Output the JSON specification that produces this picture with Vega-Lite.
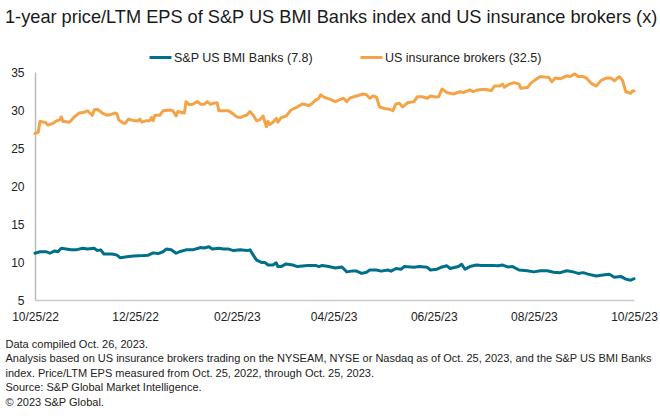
{
  "$schema": "https://vega.github.io/schema/vega-lite/v6.json",
  "autosize": {"type": "none"},
  "width": 599,
  "height": 228,
  "padding": {"left": 35, "top": 72, "right": 26, "bottom": 119},
  "background": "white",
  "config": {
    "font": "Liberation Sans",
    "view": {"stroke": null}
  },
  "title": {
    "text": "1-year price/LTM EPS of S&P US BMI Banks index and US insurance brokers (x)",
    "anchor": "start",
    "frame": "group",
    "dx": -30,
    "offset": 18,
    "baseline": "top",
    "fontSize": 18.2,
    "fontWeight": "normal",
    "color": "#1a1a1a",
    "font": "Liberation Sans"
  },
  "datasets": {
    "series": [
      {"d": "2022-10-25", "s": "S&P US BMI Banks (7.8)", "v": 11.15},
      {"d": "2022-10-28", "s": "S&P US BMI Banks (7.8)", "v": 11.35},
      {"d": "2022-11-01", "s": "S&P US BMI Banks (7.8)", "v": 11.35},
      {"d": "2022-11-03", "s": "S&P US BMI Banks (7.8)", "v": 11.15},
      {"d": "2022-11-06", "s": "S&P US BMI Banks (7.8)", "v": 11.45},
      {"d": "2022-11-08", "s": "S&P US BMI Banks (7.8)", "v": 11.35},
      {"d": "2022-11-10", "s": "S&P US BMI Banks (7.8)", "v": 11.8},
      {"d": "2022-11-13", "s": "S&P US BMI Banks (7.8)", "v": 11.7},
      {"d": "2022-11-16", "s": "S&P US BMI Banks (7.8)", "v": 11.6},
      {"d": "2022-11-19", "s": "S&P US BMI Banks (7.8)", "v": 11.6},
      {"d": "2022-11-23", "s": "S&P US BMI Banks (7.8)", "v": 11.8},
      {"d": "2022-11-26", "s": "S&P US BMI Banks (7.8)", "v": 11.7},
      {"d": "2022-11-30", "s": "S&P US BMI Banks (7.8)", "v": 11.8},
      {"d": "2022-12-02", "s": "S&P US BMI Banks (7.8)", "v": 11.5},
      {"d": "2022-12-04", "s": "S&P US BMI Banks (7.8)", "v": 11.6},
      {"d": "2022-12-06", "s": "S&P US BMI Banks (7.8)", "v": 11.05},
      {"d": "2022-12-11", "s": "S&P US BMI Banks (7.8)", "v": 11.05},
      {"d": "2022-12-14", "s": "S&P US BMI Banks (7.8)", "v": 10.9},
      {"d": "2022-12-16", "s": "S&P US BMI Banks (7.8)", "v": 10.55},
      {"d": "2022-12-20", "s": "S&P US BMI Banks (7.8)", "v": 10.7},
      {"d": "2022-12-24", "s": "S&P US BMI Banks (7.8)", "v": 10.8},
      {"d": "2022-12-30", "s": "S&P US BMI Banks (7.8)", "v": 10.85},
      {"d": "2023-01-02", "s": "S&P US BMI Banks (7.8)", "v": 10.9},
      {"d": "2023-01-05", "s": "S&P US BMI Banks (7.8)", "v": 11.2},
      {"d": "2023-01-08", "s": "S&P US BMI Banks (7.8)", "v": 11.1},
      {"d": "2023-01-11", "s": "S&P US BMI Banks (7.8)", "v": 11.35},
      {"d": "2023-01-13", "s": "S&P US BMI Banks (7.8)", "v": 11.7},
      {"d": "2023-01-16", "s": "S&P US BMI Banks (7.8)", "v": 11.6},
      {"d": "2023-01-19", "s": "S&P US BMI Banks (7.8)", "v": 11.15},
      {"d": "2023-01-21", "s": "S&P US BMI Banks (7.8)", "v": 11.35},
      {"d": "2023-01-25", "s": "S&P US BMI Banks (7.8)", "v": 11.6},
      {"d": "2023-01-29", "s": "S&P US BMI Banks (7.8)", "v": 11.6},
      {"d": "2023-02-03", "s": "S&P US BMI Banks (7.8)", "v": 11.9},
      {"d": "2023-02-05", "s": "S&P US BMI Banks (7.8)", "v": 11.85},
      {"d": "2023-02-08", "s": "S&P US BMI Banks (7.8)", "v": 12.0},
      {"d": "2023-02-10", "s": "S&P US BMI Banks (7.8)", "v": 11.7},
      {"d": "2023-02-14", "s": "S&P US BMI Banks (7.8)", "v": 11.8},
      {"d": "2023-02-17", "s": "S&P US BMI Banks (7.8)", "v": 11.7},
      {"d": "2023-02-20", "s": "S&P US BMI Banks (7.8)", "v": 11.7},
      {"d": "2023-02-23", "s": "S&P US BMI Banks (7.8)", "v": 11.5},
      {"d": "2023-02-27", "s": "S&P US BMI Banks (7.8)", "v": 11.6},
      {"d": "2023-03-03", "s": "S&P US BMI Banks (7.8)", "v": 11.5},
      {"d": "2023-03-05", "s": "S&P US BMI Banks (7.8)", "v": 11.6},
      {"d": "2023-03-07", "s": "S&P US BMI Banks (7.8)", "v": 10.9},
      {"d": "2023-03-09", "s": "S&P US BMI Banks (7.8)", "v": 10.25},
      {"d": "2023-03-12", "s": "S&P US BMI Banks (7.8)", "v": 9.95},
      {"d": "2023-03-14", "s": "S&P US BMI Banks (7.8)", "v": 9.95},
      {"d": "2023-03-16", "s": "S&P US BMI Banks (7.8)", "v": 9.6},
      {"d": "2023-03-19", "s": "S&P US BMI Banks (7.8)", "v": 9.6},
      {"d": "2023-03-21", "s": "S&P US BMI Banks (7.8)", "v": 9.9},
      {"d": "2023-03-22", "s": "S&P US BMI Banks (7.8)", "v": 9.4},
      {"d": "2023-03-24", "s": "S&P US BMI Banks (7.8)", "v": 9.4},
      {"d": "2023-03-27", "s": "S&P US BMI Banks (7.8)", "v": 9.75},
      {"d": "2023-03-31", "s": "S&P US BMI Banks (7.8)", "v": 9.6},
      {"d": "2023-04-03", "s": "S&P US BMI Banks (7.8)", "v": 9.4},
      {"d": "2023-04-09", "s": "S&P US BMI Banks (7.8)", "v": 9.55},
      {"d": "2023-04-14", "s": "S&P US BMI Banks (7.8)", "v": 9.55},
      {"d": "2023-04-16", "s": "S&P US BMI Banks (7.8)", "v": 9.4},
      {"d": "2023-04-18", "s": "S&P US BMI Banks (7.8)", "v": 9.55},
      {"d": "2023-04-22", "s": "S&P US BMI Banks (7.8)", "v": 9.4},
      {"d": "2023-04-26", "s": "S&P US BMI Banks (7.8)", "v": 9.2},
      {"d": "2023-04-30", "s": "S&P US BMI Banks (7.8)", "v": 9.35},
      {"d": "2023-05-03", "s": "S&P US BMI Banks (7.8)", "v": 8.7},
      {"d": "2023-05-06", "s": "S&P US BMI Banks (7.8)", "v": 8.8},
      {"d": "2023-05-09", "s": "S&P US BMI Banks (7.8)", "v": 8.8},
      {"d": "2023-05-12", "s": "S&P US BMI Banks (7.8)", "v": 8.5},
      {"d": "2023-05-15", "s": "S&P US BMI Banks (7.8)", "v": 8.65},
      {"d": "2023-05-17", "s": "S&P US BMI Banks (7.8)", "v": 8.95},
      {"d": "2023-05-21", "s": "S&P US BMI Banks (7.8)", "v": 8.95},
      {"d": "2023-05-24", "s": "S&P US BMI Banks (7.8)", "v": 8.8},
      {"d": "2023-05-28", "s": "S&P US BMI Banks (7.8)", "v": 8.95},
      {"d": "2023-05-30", "s": "S&P US BMI Banks (7.8)", "v": 8.8},
      {"d": "2023-06-02", "s": "S&P US BMI Banks (7.8)", "v": 9.15},
      {"d": "2023-06-05", "s": "S&P US BMI Banks (7.8)", "v": 9.05},
      {"d": "2023-06-07", "s": "S&P US BMI Banks (7.8)", "v": 9.4},
      {"d": "2023-06-13", "s": "S&P US BMI Banks (7.8)", "v": 9.3},
      {"d": "2023-06-16", "s": "S&P US BMI Banks (7.8)", "v": 9.4},
      {"d": "2023-06-21", "s": "S&P US BMI Banks (7.8)", "v": 9.3},
      {"d": "2023-06-23", "s": "S&P US BMI Banks (7.8)", "v": 8.95},
      {"d": "2023-06-27", "s": "S&P US BMI Banks (7.8)", "v": 9.05},
      {"d": "2023-06-30", "s": "S&P US BMI Banks (7.8)", "v": 9.35},
      {"d": "2023-07-03", "s": "S&P US BMI Banks (7.8)", "v": 9.5},
      {"d": "2023-07-05", "s": "S&P US BMI Banks (7.8)", "v": 9.15},
      {"d": "2023-07-10", "s": "S&P US BMI Banks (7.8)", "v": 9.4},
      {"d": "2023-07-12", "s": "S&P US BMI Banks (7.8)", "v": 9.7},
      {"d": "2023-07-14", "s": "S&P US BMI Banks (7.8)", "v": 9.05},
      {"d": "2023-07-17", "s": "S&P US BMI Banks (7.8)", "v": 9.4},
      {"d": "2023-07-21", "s": "S&P US BMI Banks (7.8)", "v": 9.6},
      {"d": "2023-07-24", "s": "S&P US BMI Banks (7.8)", "v": 9.55},
      {"d": "2023-07-27", "s": "S&P US BMI Banks (7.8)", "v": 9.55},
      {"d": "2023-07-31", "s": "S&P US BMI Banks (7.8)", "v": 9.55},
      {"d": "2023-08-03", "s": "S&P US BMI Banks (7.8)", "v": 9.5},
      {"d": "2023-08-06", "s": "S&P US BMI Banks (7.8)", "v": 9.6},
      {"d": "2023-08-09", "s": "S&P US BMI Banks (7.8)", "v": 9.35},
      {"d": "2023-08-12", "s": "S&P US BMI Banks (7.8)", "v": 9.4},
      {"d": "2023-08-16", "s": "S&P US BMI Banks (7.8)", "v": 8.95},
      {"d": "2023-08-21", "s": "S&P US BMI Banks (7.8)", "v": 8.85},
      {"d": "2023-08-25", "s": "S&P US BMI Banks (7.8)", "v": 8.7},
      {"d": "2023-08-29", "s": "S&P US BMI Banks (7.8)", "v": 8.85},
      {"d": "2023-09-02", "s": "S&P US BMI Banks (7.8)", "v": 8.85},
      {"d": "2023-09-06", "s": "S&P US BMI Banks (7.8)", "v": 8.65},
      {"d": "2023-09-10", "s": "S&P US BMI Banks (7.8)", "v": 8.6},
      {"d": "2023-09-14", "s": "S&P US BMI Banks (7.8)", "v": 8.85},
      {"d": "2023-09-18", "s": "S&P US BMI Banks (7.8)", "v": 8.7},
      {"d": "2023-09-21", "s": "S&P US BMI Banks (7.8)", "v": 8.5},
      {"d": "2023-09-24", "s": "S&P US BMI Banks (7.8)", "v": 8.6},
      {"d": "2023-09-27", "s": "S&P US BMI Banks (7.8)", "v": 8.4},
      {"d": "2023-10-02", "s": "S&P US BMI Banks (7.8)", "v": 8.15},
      {"d": "2023-10-06", "s": "S&P US BMI Banks (7.8)", "v": 8.3},
      {"d": "2023-10-10", "s": "S&P US BMI Banks (7.8)", "v": 8.4},
      {"d": "2023-10-13", "s": "S&P US BMI Banks (7.8)", "v": 8.0},
      {"d": "2023-10-17", "s": "S&P US BMI Banks (7.8)", "v": 8.1},
      {"d": "2023-10-20", "s": "S&P US BMI Banks (7.8)", "v": 7.75},
      {"d": "2023-10-23", "s": "S&P US BMI Banks (7.8)", "v": 7.6},
      {"d": "2023-10-25", "s": "S&P US BMI Banks (7.8)", "v": 7.8},
      {"d": "2022-10-25", "s": "US insurance brokers (32.5)", "v": 26.9},
      {"d": "2022-10-27", "s": "US insurance brokers (32.5)", "v": 27.1},
      {"d": "2022-10-28", "s": "US insurance brokers (32.5)", "v": 28.5},
      {"d": "2022-10-31", "s": "US insurance brokers (32.5)", "v": 28.4},
      {"d": "2022-11-02", "s": "US insurance brokers (32.5)", "v": 28.0},
      {"d": "2022-11-05", "s": "US insurance brokers (32.5)", "v": 28.25},
      {"d": "2022-11-07", "s": "US insurance brokers (32.5)", "v": 28.55},
      {"d": "2022-11-09", "s": "US insurance brokers (32.5)", "v": 28.7},
      {"d": "2022-11-10", "s": "US insurance brokers (32.5)", "v": 29.1},
      {"d": "2022-11-11", "s": "US insurance brokers (32.5)", "v": 28.5},
      {"d": "2022-11-12", "s": "US insurance brokers (32.5)", "v": 28.5},
      {"d": "2022-11-15", "s": "US insurance brokers (32.5)", "v": 28.4},
      {"d": "2022-11-18", "s": "US insurance brokers (32.5)", "v": 29.1},
      {"d": "2022-11-21", "s": "US insurance brokers (32.5)", "v": 29.6},
      {"d": "2022-11-24", "s": "US insurance brokers (32.5)", "v": 29.7},
      {"d": "2022-11-26", "s": "US insurance brokers (32.5)", "v": 29.9},
      {"d": "2022-11-29", "s": "US insurance brokers (32.5)", "v": 29.3},
      {"d": "2022-11-30", "s": "US insurance brokers (32.5)", "v": 30.0},
      {"d": "2022-12-02", "s": "US insurance brokers (32.5)", "v": 30.1},
      {"d": "2022-12-05", "s": "US insurance brokers (32.5)", "v": 29.6},
      {"d": "2022-12-08", "s": "US insurance brokers (32.5)", "v": 29.3},
      {"d": "2022-12-10", "s": "US insurance brokers (32.5)", "v": 29.4},
      {"d": "2022-12-13", "s": "US insurance brokers (32.5)", "v": 29.6},
      {"d": "2022-12-14", "s": "US insurance brokers (32.5)", "v": 29.5},
      {"d": "2022-12-15", "s": "US insurance brokers (32.5)", "v": 28.7},
      {"d": "2022-12-18", "s": "US insurance brokers (32.5)", "v": 28.25},
      {"d": "2022-12-19", "s": "US insurance brokers (32.5)", "v": 28.25},
      {"d": "2022-12-21", "s": "US insurance brokers (32.5)", "v": 28.8},
      {"d": "2022-12-24", "s": "US insurance brokers (32.5)", "v": 28.6},
      {"d": "2022-12-27", "s": "US insurance brokers (32.5)", "v": 28.6},
      {"d": "2022-12-28", "s": "US insurance brokers (32.5)", "v": 28.8},
      {"d": "2022-12-29", "s": "US insurance brokers (32.5)", "v": 28.4},
      {"d": "2023-01-01", "s": "US insurance brokers (32.5)", "v": 28.6},
      {"d": "2023-01-03", "s": "US insurance brokers (32.5)", "v": 28.6},
      {"d": "2023-01-04", "s": "US insurance brokers (32.5)", "v": 29.0},
      {"d": "2023-01-05", "s": "US insurance brokers (32.5)", "v": 28.6},
      {"d": "2023-01-06", "s": "US insurance brokers (32.5)", "v": 29.3},
      {"d": "2023-01-09", "s": "US insurance brokers (32.5)", "v": 29.3},
      {"d": "2023-01-11", "s": "US insurance brokers (32.5)", "v": 29.9},
      {"d": "2023-01-15", "s": "US insurance brokers (32.5)", "v": 30.0},
      {"d": "2023-01-17", "s": "US insurance brokers (32.5)", "v": 29.9},
      {"d": "2023-01-19", "s": "US insurance brokers (32.5)", "v": 29.2},
      {"d": "2023-01-20", "s": "US insurance brokers (32.5)", "v": 29.8},
      {"d": "2023-01-24", "s": "US insurance brokers (32.5)", "v": 29.6},
      {"d": "2023-01-25", "s": "US insurance brokers (32.5)", "v": 31.1},
      {"d": "2023-01-27", "s": "US insurance brokers (32.5)", "v": 30.7},
      {"d": "2023-01-29", "s": "US insurance brokers (32.5)", "v": 30.75},
      {"d": "2023-02-01", "s": "US insurance brokers (32.5)", "v": 31.1},
      {"d": "2023-02-03", "s": "US insurance brokers (32.5)", "v": 30.75},
      {"d": "2023-02-05", "s": "US insurance brokers (32.5)", "v": 30.75},
      {"d": "2023-02-07", "s": "US insurance brokers (32.5)", "v": 31.1},
      {"d": "2023-02-09", "s": "US insurance brokers (32.5)", "v": 30.75},
      {"d": "2023-02-11", "s": "US insurance brokers (32.5)", "v": 30.9},
      {"d": "2023-02-13", "s": "US insurance brokers (32.5)", "v": 30.95},
      {"d": "2023-02-14", "s": "US insurance brokers (32.5)", "v": 29.9},
      {"d": "2023-02-16", "s": "US insurance brokers (32.5)", "v": 29.9},
      {"d": "2023-02-20", "s": "US insurance brokers (32.5)", "v": 29.9},
      {"d": "2023-02-22", "s": "US insurance brokers (32.5)", "v": 29.6},
      {"d": "2023-02-25", "s": "US insurance brokers (32.5)", "v": 29.1},
      {"d": "2023-02-27", "s": "US insurance brokers (32.5)", "v": 29.0},
      {"d": "2023-03-01", "s": "US insurance brokers (32.5)", "v": 29.2},
      {"d": "2023-03-03", "s": "US insurance brokers (32.5)", "v": 29.3},
      {"d": "2023-03-05", "s": "US insurance brokers (32.5)", "v": 29.8},
      {"d": "2023-03-07", "s": "US insurance brokers (32.5)", "v": 29.3},
      {"d": "2023-03-09", "s": "US insurance brokers (32.5)", "v": 28.6},
      {"d": "2023-03-11", "s": "US insurance brokers (32.5)", "v": 28.7},
      {"d": "2023-03-13", "s": "US insurance brokers (32.5)", "v": 29.2},
      {"d": "2023-03-15", "s": "US insurance brokers (32.5)", "v": 27.8},
      {"d": "2023-03-16", "s": "US insurance brokers (32.5)", "v": 28.5},
      {"d": "2023-03-17", "s": "US insurance brokers (32.5)", "v": 28.1},
      {"d": "2023-03-19", "s": "US insurance brokers (32.5)", "v": 28.4},
      {"d": "2023-03-21", "s": "US insurance brokers (32.5)", "v": 28.9},
      {"d": "2023-03-22", "s": "US insurance brokers (32.5)", "v": 28.4},
      {"d": "2023-03-24", "s": "US insurance brokers (32.5)", "v": 29.0},
      {"d": "2023-03-27", "s": "US insurance brokers (32.5)", "v": 29.2},
      {"d": "2023-03-30", "s": "US insurance brokers (32.5)", "v": 30.0},
      {"d": "2023-04-02", "s": "US insurance brokers (32.5)", "v": 30.3},
      {"d": "2023-04-06", "s": "US insurance brokers (32.5)", "v": 30.8},
      {"d": "2023-04-10", "s": "US insurance brokers (32.5)", "v": 30.6},
      {"d": "2023-04-12", "s": "US insurance brokers (32.5)", "v": 30.9},
      {"d": "2023-04-14", "s": "US insurance brokers (32.5)", "v": 31.3},
      {"d": "2023-04-16", "s": "US insurance brokers (32.5)", "v": 31.55},
      {"d": "2023-04-17", "s": "US insurance brokers (32.5)", "v": 32.0},
      {"d": "2023-04-19", "s": "US insurance brokers (32.5)", "v": 31.7},
      {"d": "2023-04-23", "s": "US insurance brokers (32.5)", "v": 31.4},
      {"d": "2023-04-26", "s": "US insurance brokers (32.5)", "v": 31.1},
      {"d": "2023-05-01", "s": "US insurance brokers (32.5)", "v": 31.55},
      {"d": "2023-05-03", "s": "US insurance brokers (32.5)", "v": 31.1},
      {"d": "2023-05-05", "s": "US insurance brokers (32.5)", "v": 31.6},
      {"d": "2023-05-09", "s": "US insurance brokers (32.5)", "v": 31.85},
      {"d": "2023-05-13", "s": "US insurance brokers (32.5)", "v": 32.1},
      {"d": "2023-05-15", "s": "US insurance brokers (32.5)", "v": 32.0},
      {"d": "2023-05-17", "s": "US insurance brokers (32.5)", "v": 31.55},
      {"d": "2023-05-19", "s": "US insurance brokers (32.5)", "v": 31.85},
      {"d": "2023-05-21", "s": "US insurance brokers (32.5)", "v": 31.7},
      {"d": "2023-05-23", "s": "US insurance brokers (32.5)", "v": 30.4},
      {"d": "2023-05-26", "s": "US insurance brokers (32.5)", "v": 30.2},
      {"d": "2023-05-29", "s": "US insurance brokers (32.5)", "v": 30.1},
      {"d": "2023-05-31", "s": "US insurance brokers (32.5)", "v": 29.9},
      {"d": "2023-06-02", "s": "US insurance brokers (32.5)", "v": 30.8},
      {"d": "2023-06-04", "s": "US insurance brokers (32.5)", "v": 30.9},
      {"d": "2023-06-06", "s": "US insurance brokers (32.5)", "v": 30.4},
      {"d": "2023-06-09", "s": "US insurance brokers (32.5)", "v": 30.95},
      {"d": "2023-06-13", "s": "US insurance brokers (32.5)", "v": 31.1},
      {"d": "2023-06-15", "s": "US insurance brokers (32.5)", "v": 31.75},
      {"d": "2023-06-18", "s": "US insurance brokers (32.5)", "v": 31.75},
      {"d": "2023-06-21", "s": "US insurance brokers (32.5)", "v": 31.55},
      {"d": "2023-06-23", "s": "US insurance brokers (32.5)", "v": 31.85},
      {"d": "2023-06-26", "s": "US insurance brokers (32.5)", "v": 31.7},
      {"d": "2023-06-28", "s": "US insurance brokers (32.5)", "v": 31.75},
      {"d": "2023-06-30", "s": "US insurance brokers (32.5)", "v": 32.75},
      {"d": "2023-07-03", "s": "US insurance brokers (32.5)", "v": 32.3},
      {"d": "2023-07-05", "s": "US insurance brokers (32.5)", "v": 32.2},
      {"d": "2023-07-07", "s": "US insurance brokers (32.5)", "v": 32.1},
      {"d": "2023-07-11", "s": "US insurance brokers (32.5)", "v": 32.4},
      {"d": "2023-07-13", "s": "US insurance brokers (32.5)", "v": 32.3},
      {"d": "2023-07-17", "s": "US insurance brokers (32.5)", "v": 32.65},
      {"d": "2023-07-19", "s": "US insurance brokers (32.5)", "v": 32.4},
      {"d": "2023-07-21", "s": "US insurance brokers (32.5)", "v": 32.6},
      {"d": "2023-07-24", "s": "US insurance brokers (32.5)", "v": 32.7},
      {"d": "2023-07-27", "s": "US insurance brokers (32.5)", "v": 32.7},
      {"d": "2023-07-30", "s": "US insurance brokers (32.5)", "v": 32.55},
      {"d": "2023-08-01", "s": "US insurance brokers (32.5)", "v": 33.15},
      {"d": "2023-08-04", "s": "US insurance brokers (32.5)", "v": 33.15},
      {"d": "2023-08-06", "s": "US insurance brokers (32.5)", "v": 33.4},
      {"d": "2023-08-07", "s": "US insurance brokers (32.5)", "v": 33.0},
      {"d": "2023-08-10", "s": "US insurance brokers (32.5)", "v": 33.4},
      {"d": "2023-08-13", "s": "US insurance brokers (32.5)", "v": 33.6},
      {"d": "2023-08-16", "s": "US insurance brokers (32.5)", "v": 33.4},
      {"d": "2023-08-17", "s": "US insurance brokers (32.5)", "v": 32.85},
      {"d": "2023-08-21", "s": "US insurance brokers (32.5)", "v": 32.95},
      {"d": "2023-08-23", "s": "US insurance brokers (32.5)", "v": 33.5},
      {"d": "2023-08-26", "s": "US insurance brokers (32.5)", "v": 34.0},
      {"d": "2023-08-29", "s": "US insurance brokers (32.5)", "v": 34.4},
      {"d": "2023-09-01", "s": "US insurance brokers (32.5)", "v": 34.3},
      {"d": "2023-09-03", "s": "US insurance brokers (32.5)", "v": 34.3},
      {"d": "2023-09-05", "s": "US insurance brokers (32.5)", "v": 33.7},
      {"d": "2023-09-07", "s": "US insurance brokers (32.5)", "v": 34.2},
      {"d": "2023-09-10", "s": "US insurance brokers (32.5)", "v": 34.1},
      {"d": "2023-09-14", "s": "US insurance brokers (32.5)", "v": 34.5},
      {"d": "2023-09-16", "s": "US insurance brokers (32.5)", "v": 34.4},
      {"d": "2023-09-19", "s": "US insurance brokers (32.5)", "v": 34.75},
      {"d": "2023-09-21", "s": "US insurance brokers (32.5)", "v": 34.4},
      {"d": "2023-09-24", "s": "US insurance brokers (32.5)", "v": 34.4},
      {"d": "2023-09-26", "s": "US insurance brokers (32.5)", "v": 34.2},
      {"d": "2023-09-29", "s": "US insurance brokers (32.5)", "v": 33.5},
      {"d": "2023-10-02", "s": "US insurance brokers (32.5)", "v": 33.15},
      {"d": "2023-10-05", "s": "US insurance brokers (32.5)", "v": 33.9},
      {"d": "2023-10-08", "s": "US insurance brokers (32.5)", "v": 34.2},
      {"d": "2023-10-11", "s": "US insurance brokers (32.5)", "v": 34.2},
      {"d": "2023-10-13", "s": "US insurance brokers (32.5)", "v": 33.85},
      {"d": "2023-10-16", "s": "US insurance brokers (32.5)", "v": 34.4},
      {"d": "2023-10-18", "s": "US insurance brokers (32.5)", "v": 33.9},
      {"d": "2023-10-20", "s": "US insurance brokers (32.5)", "v": 32.4},
      {"d": "2023-10-23", "s": "US insurance brokers (32.5)", "v": 32.2},
      {"d": "2023-10-24", "s": "US insurance brokers (32.5)", "v": 32.5},
      {"d": "2023-10-25", "s": "US insurance brokers (32.5)", "v": 32.5}
    ]
  },
  "data": {"name": "series"},
  "mark": {"type": "line", "strokeWidth": 3, "strokeJoin": "round", "strokeCap": "round"},
  "encoding": {
    "x": {
      "field": "d",
      "type": "temporal",
      "scale": {"domain": ["2022-10-25", "2023-10-25"], "nice": false},
      "axis": {
        "values": ["2022-10-25", "2022-12-25", "2023-02-25", "2023-04-25", "2023-06-25", "2023-08-25", "2023-10-25"],
        "format": "%m/%d/%y",
        "labelFontSize": 12,
        "labelColor": "#222",
        "labelPadding": 11,
        "labelFlush": false,
        "labelOverlap": false,
        "ticks": false,
        "grid": false,
        "domainColor": "#cccccc",
        "domainWidth": 1.5,
        "title": [
          "Data compiled Oct. 26, 2023.",
          "Analysis based on US insurance brokers trading on the NYSEAM, NYSE or Nasdaq as of Oct. 25, 2023, and the S&P US BMI Banks",
          "index. Price/LTM EPS measured from Oct. 25, 2022, through Oct. 25, 2023.",
          "Source: S&P Global Market Intelligence.",
          "© 2023 S&P Global."
        ],
        "titleFontSize": 11,
        "titleFontWeight": "normal",
        "titleColor": "#222",
        "titleAnchor": "start",
        "titleAlign": "left",
        "titleBaseline": "top",
        "titleX": -30,
        "titleY": 38,
        "titleLineHeight": 14.5
      }
    },
    "y": {
      "field": "v",
      "type": "quantitative",
      "scale": {"domain": [5, 35], "nice": false, "zero": false},
      "axis": {
        "values": [5, 10, 15, 20, 25, 30, 35],
        "title": null,
        "labelFontSize": 12,
        "labelColor": "#222",
        "labelPadding": 11,
        "ticks": false,
        "grid": false,
        "domainColor": "#bbbbbb",
        "domainWidth": 1.5
      }
    },
    "color": {
      "field": "s",
      "type": "nominal",
      "scale": {
        "domain": ["S&P US BMI Banks (7.8)", "US insurance brokers (32.5)"],
        "range": ["#00708A", "#F4A446"]
      },
      "legend": {
        "title": null,
        "orient": "none",
        "direction": "horizontal",
        "legendX": 113,
        "legendY": -27,
        "symbolType": "stroke",
        "symbolSize": 484,
        "symbolStrokeWidth": 3,
        "labelFontSize": 12.5,
        "labelColor": "#222",
        "labelOffset": 1,
        "columnPadding": 41
      }
    }
  }
}
